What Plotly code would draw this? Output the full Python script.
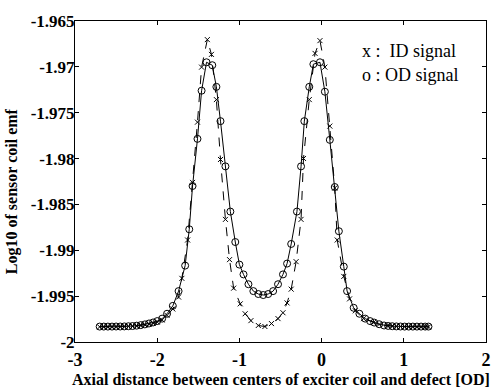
import plotly.graph_objects as go

# OD signal (o markers, solid line)
od_x = [-2.7, -2.65, -2.6, -2.55, -2.5, -2.45, -2.4, -2.35, -2.3, -2.25, -2.2, -2.15, -2.1, -2.05,
        -2.0, -1.94, -1.88, -1.81, -1.74, -1.66, -1.61, -1.57, -1.51, -1.46, -1.40, -1.33, -1.28,
        -1.23, -1.17, -1.11, -1.05, -1.00, -0.95, -0.89, -0.83, -0.77, -0.71, -0.65, -0.59, -0.53,
        -0.47, -0.42, -0.37, -0.30, -0.25, -0.21, -0.15, -0.10, -0.02, 0.04, 0.10, 0.16, 0.21,
        0.27, 0.31, 0.39, 0.46, 0.53, 0.59, 0.64, 0.70, 0.76, 0.81, 0.86, 0.91, 0.96, 1.01, 1.06,
        1.11, 1.16, 1.21, 1.26, 1.30]
od_y = [-1.99832, -1.99832, -1.99832, -1.99832, -1.99831, -1.99831, -1.99830, -1.99828, -1.99826,
        -1.99822, -1.99816, -1.99808, -1.99798, -1.99787, -1.99772, -1.99745, -1.99692, -1.99606,
        -1.99445, -1.99167, -1.98771, -1.98299, -1.97785, -1.97260, -1.96950, -1.96982, -1.97218,
        -1.97592, -1.98085, -1.98578, -1.98910, -1.99156, -1.99263, -1.99370, -1.99445, -1.99477,
        -1.99488, -1.99477, -1.99445, -1.99370, -1.99263, -1.99145, -1.98931, -1.98578, -1.98085,
        -1.97592, -1.97218, -1.96971, -1.96950, -1.97271, -1.97796, -1.98310, -1.98792, -1.99178,
        -1.99445, -1.99627, -1.99692, -1.99745, -1.99772, -1.99788, -1.99806, -1.99820, -1.99825,
        -1.99828, -1.99830, -1.99831, -1.99832, -1.99832, -1.99832, -1.99832, -1.99832, -1.99832,
        -1.99832]

# ID signal (x markers, dashed line)
id_x = [-2.7, -2.65, -2.6, -2.55, -2.5, -2.45, -2.4, -2.35, -2.3, -2.25, -2.2, -2.15, -2.1, -2.05,
        -2.0, -1.94, -1.88, -1.81, -1.74, -1.70, -1.63, -1.57, -1.51, -1.46, -1.39, -1.34, -1.28,
        -1.23, -1.17, -1.12, -1.07, -0.99, -0.93, -0.86, -0.77, -0.69, -0.61, -0.53, -0.47, -0.42,
        -0.37, -0.31, -0.25, -0.22, -0.15, -0.08, -0.02, 0.04, 0.10, 0.16, 0.19, 0.27, 0.34, 0.41,
        0.51, 0.63, 0.70, 0.80, 0.86, 0.91, 0.96, 1.01, 1.06, 1.11, 1.16, 1.21, 1.26, 1.30]
id_y = [-1.99835, -1.99835, -1.99835, -1.99835, -1.99834, -1.99834, -1.99833, -1.99831, -1.99829,
        -1.99825, -1.99820, -1.99813, -1.99805, -1.99795, -1.99782, -1.99760, -1.99710, -1.99640,
        -1.99510, -1.99306, -1.98888, -1.98260, -1.97603, -1.97003, -1.96703, -1.96864, -1.97357,
        -1.98010, -1.98663, -1.99102, -1.99413, -1.99584, -1.99692, -1.99767, -1.99820, -1.99831,
        -1.99799, -1.99745, -1.99681, -1.99574, -1.99424, -1.99124, -1.98663, -1.97999, -1.97357,
        -1.96853, -1.96714, -1.97003, -1.97646, -1.98321, -1.98888, -1.99285, -1.99530, -1.99660,
        -1.99745, -1.99788, -1.99808, -1.99820, -1.99826, -1.99829, -1.99831, -1.99833, -1.99834,
        -1.99835, -1.99835, -1.99835, -1.99835, -1.99835]

x_ticks = [-3, -2, -1, 0, 1, 2]
x_tick_labels = ["-3", "-2", "-1", "0", "1", "2"]
y_ticks = [-2.0, -1.995, -1.99, -1.985, -1.98, -1.975, -1.97, -1.965]
y_tick_labels = ["-2", "-1.995", "-1.99", "-1.985", "-1.98", "-1.975", "-1.97", "-1.965"]

x_title = "Axial distance between centers of exciter coil and defect [OD]"
y_title = "Log10 of sensor coil emf"
legend_lines = ["x :  ID signal", "o : OD signal"]

FONT = "Liberation Serif, Times New Roman, serif"

fig = go.Figure()
fig.add_trace(go.Scatter(
    x=id_x, y=id_y, mode="lines+markers", name="ID signal",
    line=dict(color="black", width=1, dash="dash"),
    marker=dict(symbol="x-thin-open", size=5, line=dict(color="black", width=1)),
))
fig.add_trace(go.Scatter(
    x=od_x, y=od_y, mode="lines+markers", name="OD signal",
    line=dict(color="black", width=1),
    marker=dict(symbol="circle-open", size=7, color="black", line=dict(color="black", width=1)),
))

axis_common = dict(
    showline=True, linecolor="black", linewidth=1, mirror="ticks",
    ticks="inside", ticklen=4, tickcolor="black", tickwidth=1,
    showgrid=False, zeroline=False,
)

fig.update_layout(
    width=503, height=392,
    margin=dict(l=75, r=13, t=15, b=50),
    paper_bgcolor="white", plot_bgcolor="white",
    showlegend=False,
    xaxis=dict(range=[-3, 2], tickvals=x_ticks, ticktext=x_tick_labels,
               ticklabelstandoff=1,
               tickfont=dict(family=FONT, size=18, color="black", weight="bold"),
               **axis_common),
    yaxis=dict(range=[-2.0, -1.965], tickvals=y_ticks, ticktext=y_tick_labels,
               ticklabelstandoff=-4,
               tickfont=dict(family=FONT, size=17, color="black", weight="bold"),
               **axis_common),
)

fig.add_annotation(
    x=0.5, y=0, xref="paper", yref="paper", xanchor="center", yanchor="top", yshift=-27,
    text=x_title, showarrow=False,
    font=dict(family=FONT, size=16, color="black", weight="bold"),
)
fig.add_annotation(
    x=0, y=0.47, xref="paper", yref="paper", xanchor="center", yanchor="middle", xshift=-63,
    text=y_title, textangle=-90, showarrow=False,
    font=dict(family=FONT, size=16, color="black", weight="bold"),
)

# legend text placed at pixel positions converted into domain fractions
plot_l, plot_r, plot_t, plot_b = 75, 490, 15, 342
for line, (px, py) in zip(legend_lines, [(363, 46), (363, 70)]):
    fig.add_annotation(
        x=(px - plot_l) / (plot_r - plot_l), y=1 - (py - plot_t) / (plot_b - plot_t),
        xref="x domain", yref="y domain", showarrow=False,
        text=line, xanchor="left", yanchor="middle",
        font=dict(family=FONT, size=18, color="black"),
    )

fig.write_html("out.html")
